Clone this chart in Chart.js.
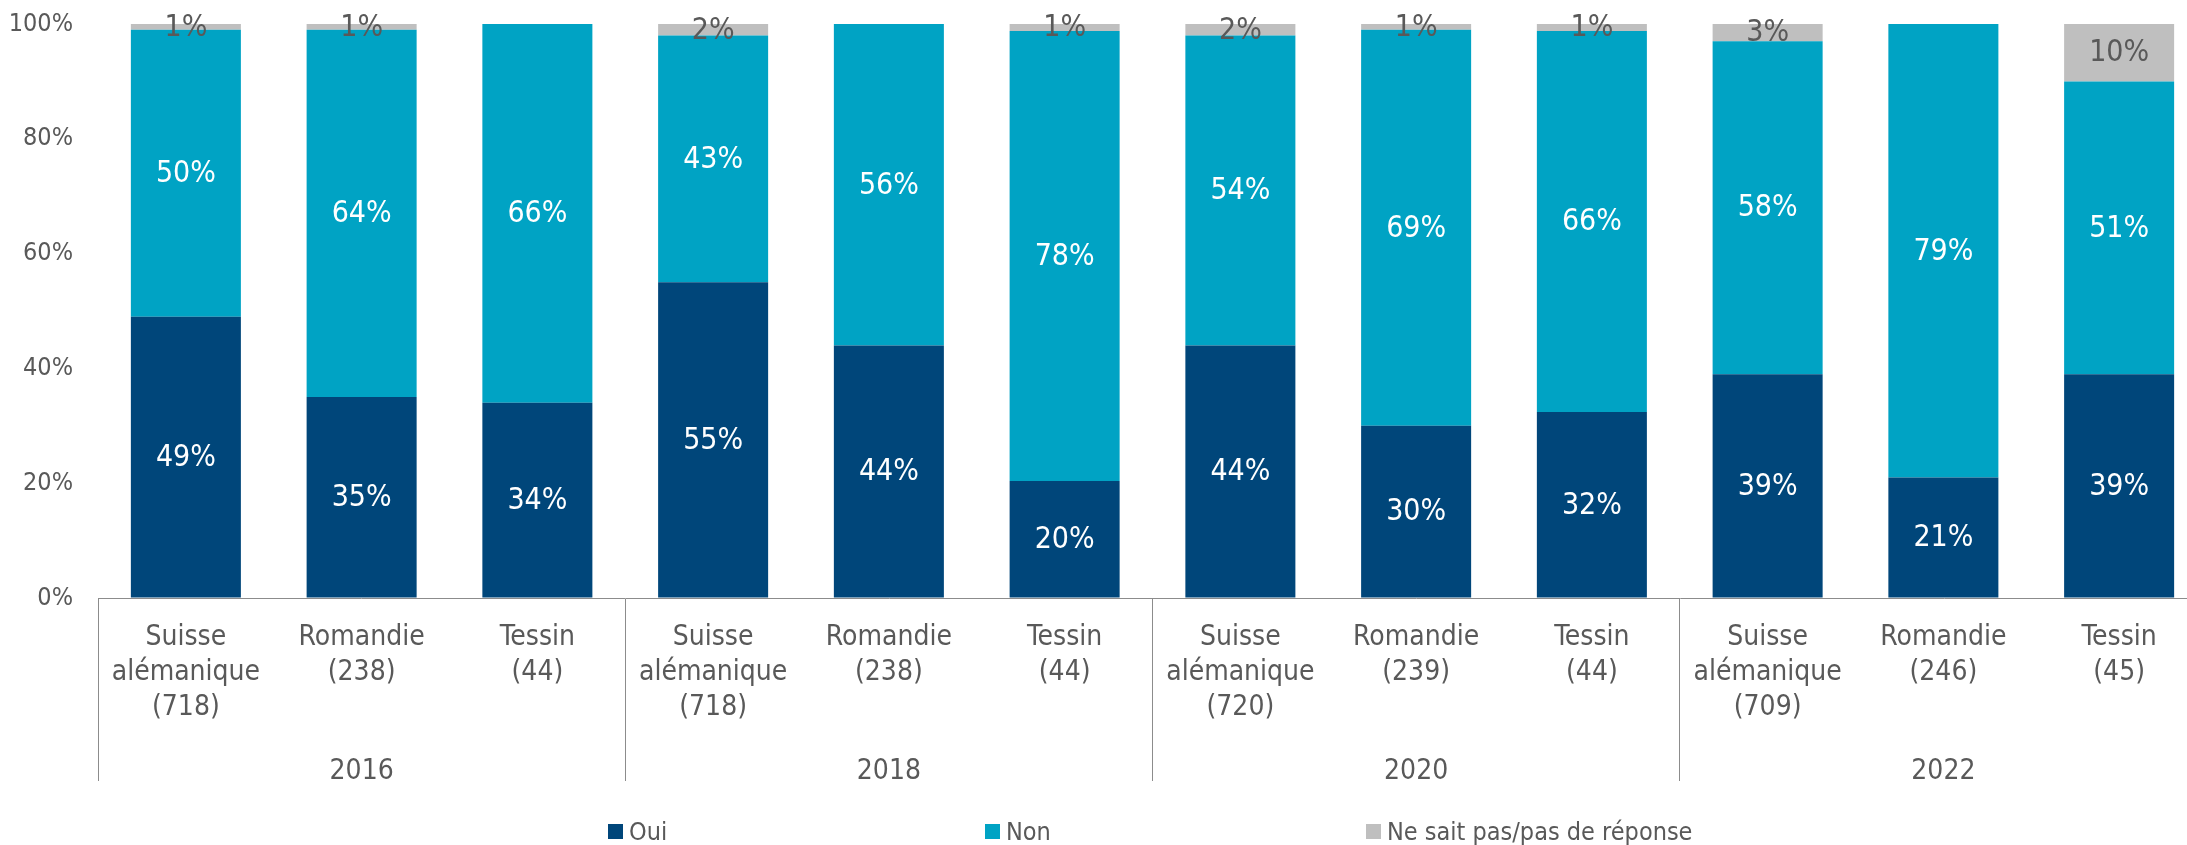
<!DOCTYPE html>
<html>
<head>
<meta charset="utf-8">
<script src="https://cdn.jsdelivr.net/npm/chart.js@4/dist/chart.umd.min.js"></script>
<style>
    html, body { margin: 0; padding: 0; overflow: hidden; background: #fff; }
    #wrap { position: relative; width: 2187px; height: 845px; overflow: hidden; }
    canvas { position: absolute; left: 0; top: 0; }
    .leg {
        position: absolute; top: 816px; height: 30px;
        display: flex; align-items: center;
        font: 25px 'DejaVu Sans Condensed', 'DejaVu Sans', sans-serif;
        color: #595959; white-space: nowrap;
    }
    .leg i { display: inline-block; width: 15px; height: 15px; margin-right: 6px; }
</style>
</head>
<body>
<div id="wrap">
    <canvas id="chart" width="2210" height="845"></canvas>
    <div class="leg" style="left:608px"><i style="background:#00467a"></i>Oui</div>
    <div class="leg" style="left:985px"><i style="background:#00a3c4"></i>Non</div>
    <div class="leg" style="left:1366px"><i style="background:#bfbfbf"></i>Ne sait pas/pas de réponse</div>
</div>
<script>
const FONT = "'DejaVu Sans Condensed', 'DejaVu Sans', sans-serif";
const TEXT = '#595959';
const LINE = '#8c8c8c';

// Categories (region + sample size), grouped by survey year
const categories = [
    ['Suisse', 'alémanique', '(718)'], ['Romandie', '(238)'], ['Tessin', '(44)'],
    ['Suisse', 'alémanique', '(718)'], ['Romandie', '(238)'], ['Tessin', '(44)'],
    ['Suisse', 'alémanique', '(720)'], ['Romandie', '(239)'], ['Tessin', '(44)'],
    ['Suisse', 'alémanique', '(709)'], ['Romandie', '(246)'], ['Tessin', '(45)'],
];
const years = ['2016', '2018', '2020', '2022'];

// Series values, in percent (labels show the rounded value)
const oui = [49, 35, 34, 55, 44, 20.4, 44, 30, 32.4, 39, 21, 39];
const non = [50, 64, 66, 43, 56, 78.4, 54, 69, 66.4, 58, 79, 51];
const nsp = [1, 1, 0, 2, 0, 1.2, 2, 1, 1.2, 3, 0, 10];

const yTicks = [0, 20, 40, 60, 80, 100];

// Draw the percentage in the middle of every segment
const segmentLabels = {
    id: 'segmentLabels',
    afterDatasetsDraw: (chart) => {
        const ctx = chart.ctx;
        ctx.save();
        ctx.font = '30px ' + FONT;
        ctx.textAlign = 'center';
        ctx.textBaseline = 'middle';
        chart.data.datasets.forEach((ds, i) => {
            chart.getDatasetMeta(i).data.forEach((bar, j) => {
                const v = ds.data[j];
                if (!v) return;
                const { x, y } = bar.getCenterPoint();
                ctx.fillStyle = ds.labelColour;
                ctx.fillText(Math.round(v) + '%', x, y + 1);
            });
        });
        ctx.restore();
    },
};

new Chart(document.getElementById('chart'), {
    type: 'bar',
    data: {
        labels: categories,
        datasets: [
            { label: 'Oui', data: oui, backgroundColor: '#00467a', labelColour: '#ffffff' },
            { label: 'Non', data: non, backgroundColor: '#00a3c4', labelColour: '#ffffff' },
            { label: 'Ne sait pas/pas de réponse', data: nsp, backgroundColor: '#bfbfbf', labelColour: TEXT },
        ],
    },
    plugins: [segmentLabels],
    options: {
        responsive: false,
        animation: false,
        events: [],
        barPercentage: 0.626,
        categoryPercentage: 1,
        layout: { padding: { top: 24, right: 3, bottom: 0, left: 0 } },
        plugins: {
            legend: { display: false },
            tooltip: { enabled: false },
        },
        scales: {
            x: {
                stacked: true,
                offset: true,
                border: { display: true, color: LINE, width: 1 },
                grid: {
                    drawOnChartArea: false,
                    drawTicks: true,
                    tickLength: 183,
                    offset: true,
                    lineWidth: 1,
                    // separators only between year groups
                    color: (c) => (c.index === undefined || c.index % 3 === 0 ? LINE : 'rgba(0,0,0,0)'),
                },
                ticks: {
                    autoSkip: false,
                    maxRotation: 0,
                    padding: -161,
                    color: TEXT,
                    font: { family: FONT, size: 28, lineHeight: 1.25 },
                },
                afterFit: (s) => { s.height = 130; },
            },
            x2: {
                type: 'category',
                position: 'bottom',
                labels: years,
                offset: true,
                border: { display: false },
                grid: { display: false },
                ticks: {
                    autoSkip: false,
                    maxRotation: 0,
                    padding: 18,
                    color: TEXT,
                    font: { family: FONT, size: 28, lineHeight: 1.25 },
                },
                afterFit: (s) => { s.height = 117; },
            },
            y: {
                stacked: true,
                min: 0,
                max: 100,
                border: { display: false },
                // invisible tick marks keep the labels clear of the bars
                grid: { drawOnChartArea: false, drawTicks: true, tickLength: 25, color: 'rgba(0,0,0,0)' },
                afterBuildTicks: (s) => { s.ticks = yTicks.map((v) => ({ value: v })); },
                ticks: {
                    padding: 0,
                    color: TEXT,
                    font: { family: FONT, size: 25 },
                    callback: (v) => v + '%',
                },
                afterFit: (s) => { s.width = 98; },
            },
        },
    },
});
</script>
</body>
</html>
